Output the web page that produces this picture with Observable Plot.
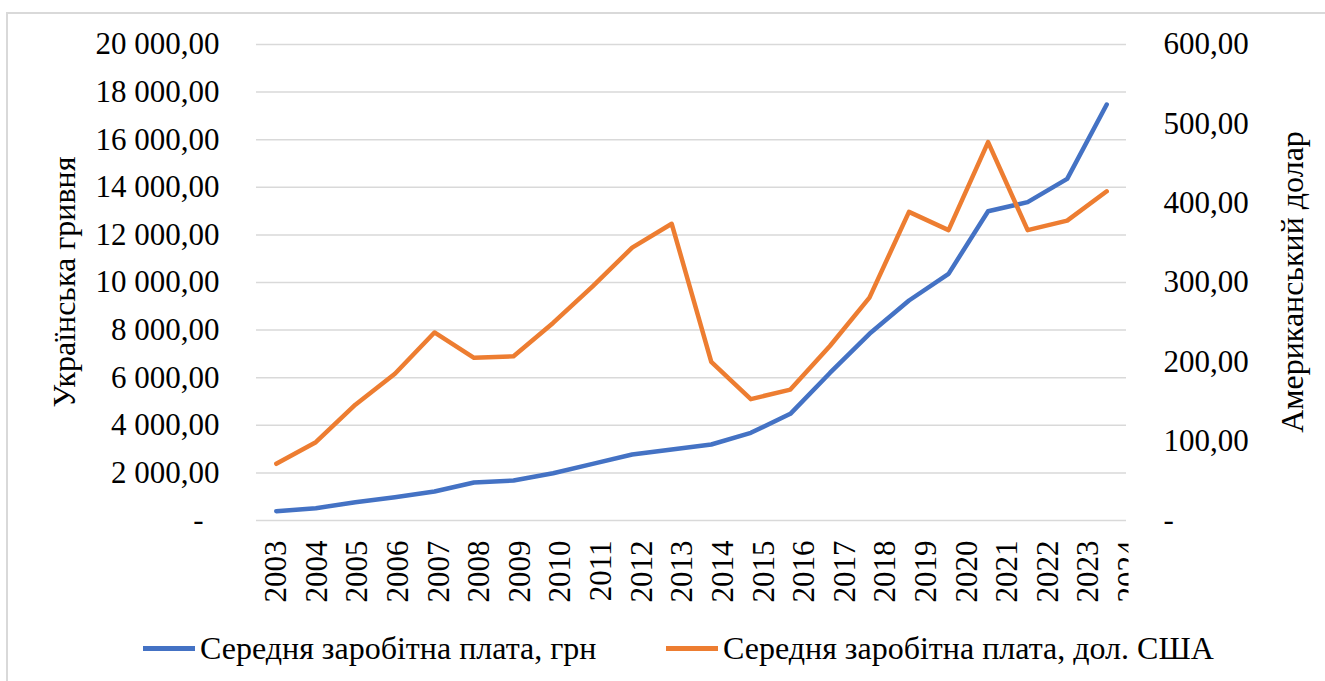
<!DOCTYPE html>
<html>
<head>
<meta charset="utf-8">
<script src="https://cdn.jsdelivr.net/npm/d3@7"></script>
<script src="https://cdn.jsdelivr.net/npm/@observablehq/plot@0.6"></script>
<style>
  body { margin: 0; background: #fff; }
  #wrap { position: relative; width: 1325px; height: 681px; overflow: hidden; background: #fff;
          font-family: "Liberation Serif", "Times New Roman", serif; color: #000; }
  #border { position: absolute; left: 6px; top: 12px; width: 1400px; height: 1000px; border: 2px solid #d9d9d9; }
  #chart { position: absolute; left: 0; top: 0; }
  .ytitle { position: absolute; font-family: "Liberation Serif", serif; font-size: 32px; white-space: nowrap; transform: translate(-50%, -50%) rotate(-90deg); }
  .leg { position: absolute; top: 629px; display: flex; align-items: center; font-family: "Liberation Serif", serif; font-size: 32px; white-space: nowrap; height: 38px; }
  .sw { width: 52px; height: 5px; margin-right: 5px; }
</style>
</head>
<body>
<div id="wrap">
  <div id="border"></div>
  <div id="chart"></div>
  <div class="ytitle" style="left:64px; top:282px;">Українська гривня</div>
  <div class="ytitle" style="left:1292px; top:282px;">Американський долар</div>
  <div class="leg" style="left:143px;"><div class="sw" style="background:#4472C4"></div><span>Середня заробітна плата, грн</span></div>
  <div class="leg" style="left:666px;"><div class="sw" style="background:#ED7D31"></div><span>Середня заробітна плата, дол. США</span></div>
</div>
<script>
const years = ["2003","2004","2005","2006","2007","2008","2009","2010","2011","2012","2013",
               "2014","2015","2016","2017","2018","2019","2020","2021","2022","2023","2024"];
const wageUAH = [391, 517, 769, 979, 1218, 1597, 1681, 1988, 2381, 2773, 2983,
                 3193, 3683, 4482, 6200, 7843, 9244, 10364, 12996, 13375, 14356, 17479];
const wageUSD = [71.5, 98.7, 146, 185, 237, 205, 207, 249, 295, 344, 374,
                 200, 153, 165, 220, 281, 389, 366, 477, 366, 378, 415];
const leftTicks = [2000, 4000, 6000, 8000, 10000, 12000, 14000, 16000, 18000, 20000];
const rightTicks = [0, 100, 200, 300, 400, 500, 600];
const gridTicks = [0, ...leftTicks];

// In the original (Excel) the rotated category labels are spread slightly wider
// than the data categories, so the last one gets cut at the plot edge.
const labelStretch = 1.027;

const k = 20000 / 600;
const yearNum = years.map(Number);
const data = years.map((y, i) => ({year: yearNum[i], uah: wageUAH[i], usd: wageUSD[i]}));
const fmt = v => Math.abs(v) < 1e-9 ? "-" : d3.format(",.2f")(v).replace(/,/g, " ").replace(".", ",");
const x0 = yearNum[0];
const labelPos = yearNum.map((y, i) => x0 + i * labelStretch);
const labelText = d => years[Math.round((d - x0) / labelStretch)];

const chart = Plot.plot({
  width: 1325,
  height: 600,
  marginTop: 44,
  marginBottom: 80,
  marginLeft: 256,
  marginRight: 199,
  style: {fontFamily: '"Liberation Serif", "Times New Roman", serif', fontSize: "31px", color: "#000", background: "transparent", overflow: "visible"},
  x: {type: "linear", domain: [x0 - 0.5, yearNum[yearNum.length - 1] + 0.5]},
  y: {domain: [0, 20000]},
  marks: [
    Plot.gridY(gridTicks, {stroke: "#d9d9d9", strokeOpacity: 1, strokeWidth: 1.5}),
    Plot.axisY(leftTicks, {anchor: "left", tickSize: 0, tickPadding: 37, tickFormat: fmt, label: null, fontSize: 31}),
    Plot.axisY([0], {anchor: "left", tickSize: 0, tickPadding: 53, tickFormat: () => "-", label: null, fontSize: 31}),
    Plot.axisY(rightTicks.map(d => d * k), {anchor: "right", tickSize: 0, tickPadding: 37, tickFormat: d => fmt(d / k), label: null, fontSize: 31}),
    Plot.axisX(labelPos, {tickRotate: -90, tickSize: 0, tickPadding: 20, tickFormat: labelText, label: null, fontSize: 31}),
    Plot.lineY(data, {x: "year", y: "uah", stroke: "#4472C4", strokeWidth: 4.5}),
    Plot.lineY(data, {x: "year", y: d => d.usd * k, stroke: "#ED7D31", strokeWidth: 4.5})
  ]
});
document.getElementById("chart").appendChild(chart);

// clip the x tick labels at the right edge of the plot area, as in the original
const svg = d3.select(chart);
svg.append("defs").append("clipPath").attr("id", "xclip")
  .append("rect").attr("x", 0).attr("y", 0).attr("width", 1128).attr("height", 600);
svg.selectAll('g[aria-label="x-axis tick label"]').attr("clip-path", "url(#xclip)");
</script>
</body>
</html>
